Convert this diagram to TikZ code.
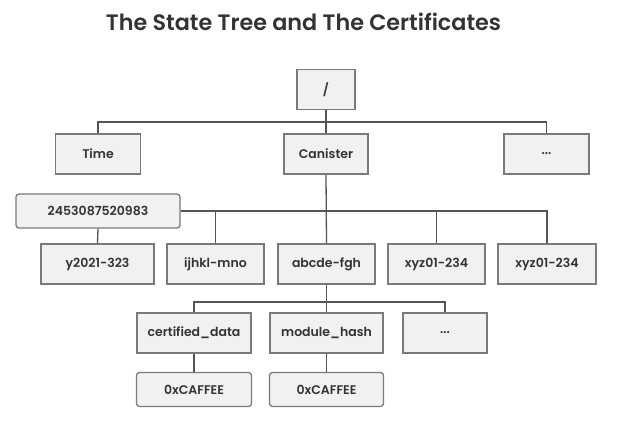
\documentclass[tikz,border=0pt]{standalone}
\usepackage{fontspec}
\setmainfont{Poppins}[BoldFont={* SemiBold}]
\begin{document}
\begin{tikzpicture}[x=1pt,y=-1pt,
  box/.style={draw=boxline, fill=boxfill, line width=1.3pt, minimum height=40pt, inner sep=0pt,
    font=\fontsize{12.5}{14}\selectfont\bfseries, text=txt},
  rbox/.style={box, rounded corners=3pt, minimum height=34pt},
  conn/.style={draw=linecol, line width=1.3pt}]
\definecolor{boxline}{HTML}{7A7A7A}
\definecolor{boxfill}{HTML}{F1F1F1}
\definecolor{linecol}{HTML}{555555}
\definecolor{txt}{HTML}{333333}
\useasboundingbox[fill=white] (0,0) rectangle (617,424);
\node[font=\fontsize{22.3}{26}\selectfont\bfseries, text=txt] (title) at (303.5,22) {The State Tree and The Certificates};
\node[box, minimum width=58pt] (root) at (326,89.5) {/};
\node[box, minimum width=85pt] (time) at (98,154) {Time};
\node[box, minimum width=84pt] (canister) at (326,154) {Canister};
\node[box, minimum width=85pt] (dots1) at (546.5,154) {...};
\node[rbox, minimum width=164pt] (ts) at (98,211) {2453087520983};
\node[box, minimum width=113pt] (y2021) at (97.5,264) {y2021-323};
\node[box, minimum width=97pt] (ijhkl) at (215.5,264) {ijhkl-mno};
\node[box, minimum width=97pt] (abcde) at (326.5,264) {abcde-fgh};
\node[box, minimum width=97pt] (xyz1) at (436.5,264) {xyz01-234};
\node[box, minimum width=98pt] (xyz2) at (547,264) {xyz01-234};
\node[box, minimum width=114pt] (cert) at (194,333) {certified\_data};
\node[box, minimum width=113pt] (module) at (326.5,333) {module\_hash};
\node[box, minimum width=84pt] (dots2) at (445,333) {...};
\node[rbox, minimum width=115pt] (c1) at (194,389.5) {0xCAFFEE};
\node[rbox, minimum width=114pt] (c2) at (326.5,389.5) {0xCAFFEE};
\coordinate (b1) at (326,122);
\coordinate (b2) at (326,211);
\coordinate (b3) at (326.5,302);
% level 1 bus
\draw[conn] (time.north) |- (b1) -| (dots1.north);
\draw[conn] (root.south) -- (canister.north);
% level 2 bus
\draw[conn] (canister.south) -- (abcde.north);
\draw[conn] (ts.east) -| (xyz2.north);
\draw[conn] (ts.south) -- (y2021.north);
\draw[conn] (ijhkl.north) |- (b2);
\draw[conn] (xyz1.north) |- (b2);
% level 3 bus
\draw[conn] (cert.north) |- (b3) -| (dots2.north);
\draw[conn] (abcde.south) -- (module.north);
\draw[conn] (cert.south) -- (c1.north);
\draw[conn] (module.south) -- (c2.north);
\end{tikzpicture}
\end{document}
